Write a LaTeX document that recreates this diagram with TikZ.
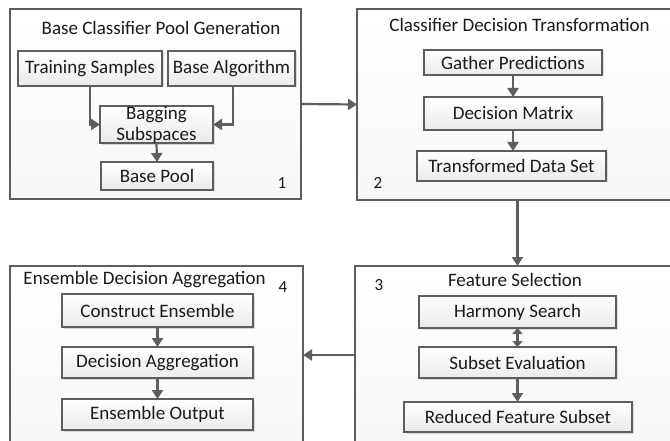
\documentclass[tikz,border=0pt]{standalone}
\usepackage{fontspec}
\setmainfont{Carlito}
\usetikzlibrary{arrows.meta,shadows,calc}
\definecolor{edge}{HTML}{5E5E5E}
\definecolor{txt}{HTML}{1A1A1A}
\tikzset{
  outerbox/.style={draw=edge, line width=2.2pt, top color=white, bottom color=gray!6,
    inner sep=0pt, outer sep=0pt, drop shadow={shadow xshift=1pt, shadow yshift=-1pt, fill=gray!45}},
  innerbox/.style={draw=edge, line width=2.2pt, top color=white, bottom color=gray!16,
    inner sep=0pt, outer sep=0pt, text=txt, align=center,
    font=\fontsize{19}{21}\selectfont,
    drop shadow={shadow xshift=1.5pt, shadow yshift=-1.5pt, fill=gray!55}},
  titletext/.style={text=txt, font=\fontsize{19}{21}\selectfont, inner sep=0pt},
  numtext/.style={text=txt, font=\fontsize{17}{19}\selectfont, inner sep=0pt},
  arr/.style={draw=edge, line width=2.2pt, -{Triangle[length=9pt,width=11pt]}},
  darr/.style={draw=edge, line width=2.2pt, {Triangle[length=6pt,width=10pt]}-{Triangle[length=6pt,width=10pt]}}
}
\begin{document}
\begin{tikzpicture}[x=1pt,y=-1pt]
\clip (0,0) rectangle (670,441);
\fill[white] (0,0) rectangle (670,441);

% outer boxes
\node[outerbox, minimum width=291, minimum height=190] (b1) at (155.5,104) {};
\node[outerbox, minimum width=330, minimum height=191] (b2) at (522,104.5) {};
\node[outerbox, minimum width=330, minimum height=178] (b3) at (520,355) {};
\node[outerbox, minimum width=293, minimum height=178] (b4) at (156.5,355) {};

% box 1
\node[titletext] (t1) at (161,28) {Base Classifier Pool Generation};
\node[innerbox, minimum width=144, minimum height=35] (ts) at (90,68.5) {Training Samples};
\node[innerbox, minimum width=127, minimum height=35] (ba) at (231.5,68.5) {Base Algorithm};
\node[innerbox, minimum width=113, minimum height=37] (bs) at (156.5,124.5) {Bagging\\Subspaces};
\node[innerbox, minimum width=112, minimum height=28] (bp) at (157,176) {Base Pool};
\node[numtext] (n1) at (282,183) {1};

% box 2
\node[titletext] (t2) at (519.5,25) {Classifier Decision Transformation};
\node[innerbox, minimum width=178, minimum height=25] (gp) at (513,62.5) {Gather Predictions};
\node[innerbox, minimum width=178, minimum height=33] (dm) at (513,113.5) {Decision Matrix};
\node[innerbox, minimum width=189, minimum height=30] (td) at (511.5,166) {Transformed Data Set};
\node[numtext] (n2) at (378,183) {2};

% box 3
\node[titletext] (t3) at (515,280) {Feature Selection};
\node[innerbox, minimum width=197, minimum height=32] (hs) at (517.5,312) {Harmony Search};
\node[innerbox, minimum width=197, minimum height=31] (se) at (517.5,362.5) {Subset Evaluation};
\node[innerbox, minimum width=228, minimum height=30] (rf) at (518,417) {Reduced Feature Subset};
\node[numtext] (n3) at (379,285) {3};

% box 4
\node[titletext] (t4) at (144.5,280) {Ensemble Decision Aggregation};
\node[innerbox, minimum width=191, minimum height=33] (ce) at (157.5,310.5) {Construct Ensemble};
\node[innerbox, minimum width=191, minimum height=31] (da) at (157.5,362.5) {Decision Aggregation};
\node[innerbox, minimum width=191, minimum height=31] (eo) at (157.5,414.5) {Ensemble Output};
\node[numtext] (n4) at (283,287) {4};

% connectors box 1
\draw[arr] (ts.south) |- (bs.west);
\draw[arr] ([xshift=1.5pt]ba.south) |- (bs.east);
\draw[arr] (bs.south) -- (bp.north);

% connectors box 2
\draw[arr] (gp.south) -- (dm.north);
\draw[arr] (dm.south -| gp.south) -- (td.north -| gp.south);

% connectors box 3
\draw[darr] (hs.south) -- (se.north);
\draw[arr] (se.south) -- (rf.north -| se.south);

% connectors box 4
\draw[arr] (ce.south) -- (da.north);
\draw[arr] (da.south) -- (eo.north);

% between boxes
\draw[arr] (b1.east) -- (b2.west);
\draw[arr] (b2.south -| hs.south) -- (b3.north -| hs.south);
\draw[arr] (b3.west) -- (b4.east);
\end{tikzpicture}
\end{document}
